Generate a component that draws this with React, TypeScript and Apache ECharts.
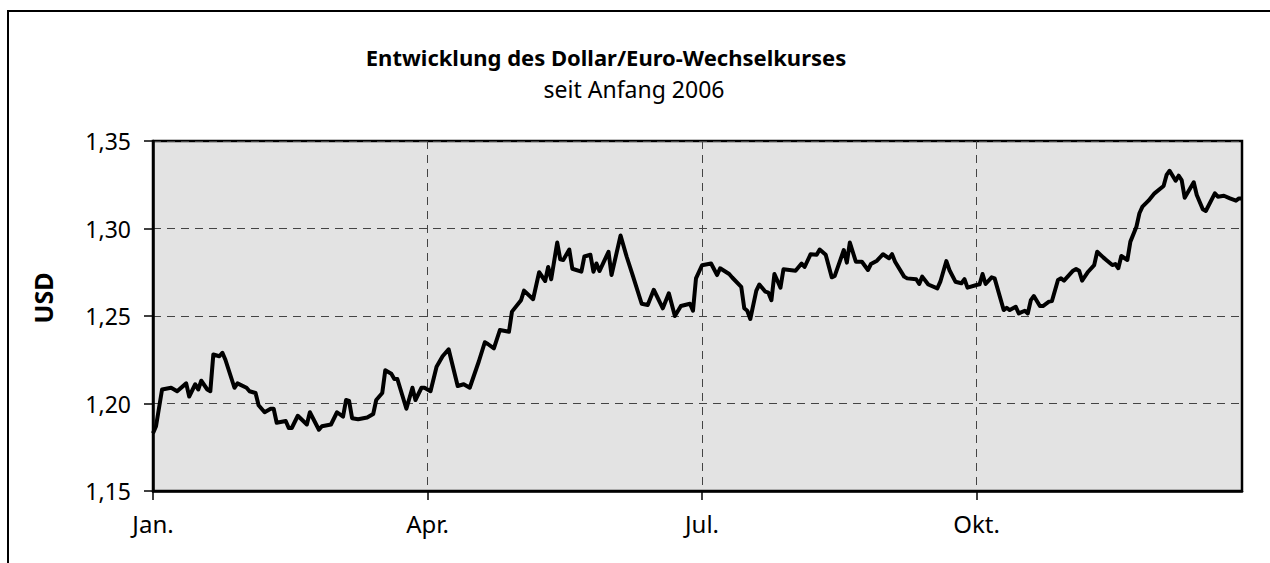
import React, { useEffect, useRef } from "react";
import * as echarts from "echarts";

// Day of year 2006 (0 = 1 Jan) and USD per EUR
const days: number[] = [
  0, 1, 3, 6, 8, 11, 12, 14, 15, 16, 18, 19, 20, 22, 23, 24, 27, 28, 31, 32,
  34, 35, 37, 39, 40, 41, 44, 45, 46, 48, 51, 52, 55, 56, 59, 61, 63, 64, 65, 66,
  68, 71, 73, 74, 76, 77, 79, 80, 81, 84, 86, 87, 89, 90, 92, 94, 96, 98, 101, 103,
  105, 108, 110, 111, 113, 115, 118, 119, 122, 123, 126, 128, 130, 131, 132, 134, 135, 136, 138, 139,
  142, 143, 145, 146, 147, 148, 151, 152, 155, 157, 159, 162, 164, 166, 169, 171, 173, 175, 178, 179,
  180, 182, 185, 187, 188, 191, 192, 195, 196, 197, 198, 200, 201, 203, 204, 205, 206, 208, 209, 213,
  215, 216, 218, 220, 221, 223, 225, 226, 229, 230, 231, 233, 235, 237, 238, 240, 242, 244, 245, 246,
  249, 250, 253, 254, 255, 257, 260, 261, 263, 264, 266, 268, 269, 270, 273, 274, 275, 276, 278, 279,
  282, 283, 284, 286, 287, 289, 290, 291, 292, 294, 295, 297, 298, 300, 301, 302, 305, 306, 307, 308,
  310, 312, 313, 315, 316, 318, 319, 320, 321, 323, 324, 326, 327, 328, 330, 332, 335, 336, 337, 339,
  340, 341, 342, 345, 346, 348, 349, 352, 353, 355, 357, 359, 360, 361,
];

const usd: number[] = [
  1.183, 1.187, 1.208, 1.209, 1.207, 1.2115, 1.204, 1.211, 1.208, 1.213, 1.208, 1.207, 1.228, 1.227, 1.229, 1.225, 1.209, 1.2115, 1.209, 1.207,
  1.206, 1.199, 1.195, 1.197, 1.197, 1.189, 1.19, 1.186, 1.186, 1.193, 1.188, 1.195, 1.185, 1.187, 1.188, 1.195, 1.1925, 1.202, 1.2015, 1.1916,
  1.191, 1.192, 1.194, 1.202, 1.206, 1.219, 1.217, 1.214, 1.214, 1.197, 1.209, 1.202, 1.209, 1.209, 1.207, 1.221, 1.227, 1.231, 1.21, 1.211,
  1.209, 1.224, 1.235, 1.234, 1.2315, 1.242, 1.241, 1.2525, 1.259, 1.2645, 1.2596, 1.275, 1.27, 1.278, 1.271, 1.292, 1.2824, 1.282, 1.288, 1.277,
  1.2753, 1.284, 1.285, 1.2753, 1.28, 1.2757, 1.2867, 1.2734, 1.296, 1.284, 1.2734, 1.257, 1.2563, 1.265, 1.2544, 1.263, 1.25, 1.2557, 1.257, 1.253,
  1.2715, 1.279, 1.28, 1.2734, 1.2773, 1.274, 1.272, 1.2667, 1.2544, 1.253, 1.2483, 1.2645, 1.268, 1.2639, 1.2633, 1.259, 1.274, 1.2662, 1.2767, 1.2759,
  1.28, 1.278, 1.2853, 1.285, 1.288, 1.285, 1.2721, 1.2729, 1.2877, 1.2805, 1.292, 1.281, 1.281, 1.2763, 1.2797, 1.2816, 1.2853, 1.283, 1.2853, 1.281,
  1.2725, 1.2715, 1.271, 1.2683, 1.2725, 1.268, 1.2658, 1.2696, 1.2814, 1.2763, 1.2696, 1.2687, 1.2711, 1.2662, 1.2677, 1.2681, 1.274, 1.2683, 1.2721, 1.2715,
  1.2534, 1.2547, 1.2534, 1.2553, 1.2515, 1.253, 1.2515, 1.2591, 1.2614, 1.2557, 1.2557, 1.2582, 1.2586, 1.2706, 1.2715, 1.2702, 1.2759, 1.2769, 1.2759, 1.2702,
  1.2753, 1.2791, 1.2867, 1.2835, 1.282, 1.2791, 1.2797, 1.2773, 1.2843, 1.282, 1.2925, 1.301, 1.3087, 1.3125, 1.3159, 1.3201, 1.3243, 1.3306, 1.333, 1.3273,
  1.3302, 1.3277, 1.3176, 1.3264, 1.3191, 1.311, 1.31, 1.3201, 1.3182, 1.3187, 1.3172, 1.3159, 1.3172, 1.3172,
];

const quarterDays: number[] = [0, 91, 182, 273];
const quarterLabels: string[] = ["Jan.", "Apr.", "Jul.", "Okt."];

const titleText = "Entwicklung des Dollar/Euro-Wechselkurses";
const subtitleText = "seit Anfang 2006";
const yName = "USD";

const FONT = "'Noto Sans', 'Open Sans', sans-serif";

export default function App() {
  const ref = useRef<HTMLDivElement>(null);

  useEffect(() => {
    if (!ref.current) return;
    const chart = echarts.init(ref.current, undefined, { renderer: "svg" });
    const seriesData = days.map((d, i) => [d, usd[i]]);
    chart.setOption({
      animation: false,
      backgroundColor: "#ffffff",
      textStyle: { fontFamily: FONT },
      graphic: [
        {
          type: "polyline",
          shape: { points: [[8, 563], [8, 11], [1270, 11]] },
          style: { stroke: "#000", lineWidth: 2, fill: "none" },
        },
        {
          type: "text",
          x: 606,
          y: 57,
          style: {
            text: titleText,
            fontFamily: FONT,
            fontSize: 22,
            fontWeight: "bold",
            fill: "#000",
            textAlign: "center",
            textVerticalAlign: "middle",
          },
        },
        {
          type: "text",
          x: 634,
          y: 89,
          style: {
            text: subtitleText,
            fontFamily: FONT,
            fontSize: 23,
            fill: "#000",
            textAlign: "center",
            textVerticalAlign: "middle",
          },
        },
        {
          type: "text",
          x: 43,
          y: 298,
          rotation: Math.PI / 2,
          style: {
            text: yName,
            fontFamily: FONT,
            fontSize: 25,
            fontWeight: "bold",
            fill: "#000",
            textAlign: "center",
            textVerticalAlign: "middle",
          },
        },
      ],
      grid: {
        left: 153,
        top: 141,
        width: 1089,
        height: 350,
        show: true,
        backgroundColor: "#e3e3e3",
        borderColor: "#000",
        borderWidth: 2.5,
        containLabel: false,
      },
      xAxis: {
        type: "value",
        min: 0,
        max: 361,
        axisLine: { show: true, lineStyle: { color: "#000", width: 2.5 } },
        axisTick: {
          show: true,
          length: 9,
          customValues: quarterDays,
          lineStyle: { color: "#000", width: 1.5 },
        },
        axisLabel: {
          customValues: quarterDays,
          formatter: (v: number) => {
            const i = quarterDays.indexOf(Math.round(v));
            return i >= 0 ? quarterLabels[i] : "";
          },
          color: "#000",
          fontSize: 24,
          fontFamily: FONT,
          margin: 20,
        },
        splitLine: {
          show: true,
          lineStyle: { color: "#444", width: 1, type: [8, 6] },
        },
      },
      yAxis: {
        type: "value",
        min: 1.15,
        max: 1.35,
        interval: 0.05,
        axisLine: { show: true, lineStyle: { color: "#000", width: 2.5 } },
        axisTick: { show: true, length: 9, lineStyle: { color: "#000", width: 1.5 } },
        axisLabel: {
          formatter: (v: number) => v.toFixed(2).replace(".", ","),
          color: "#000",
          fontSize: 23,
          fontFamily: FONT,
          margin: 22,
        },
        splitLine: {
          show: true,
          lineStyle: { color: "#444", width: 1, type: [8, 6] },
        },
      },
      series: [
        {
          type: "line",
          data: seriesData,
          showSymbol: false,
          symbol: "none",
          lineStyle: { color: "#000", width: 4, join: "round" },
          z: 3,
        },
      ],
    });
    return () => chart.dispose();
  }, []);

  return (
    <div
      ref={ref}
      style={{ position: "fixed", left: 0, top: 0, width: 1270, height: 563 }}
    />
  );
}
